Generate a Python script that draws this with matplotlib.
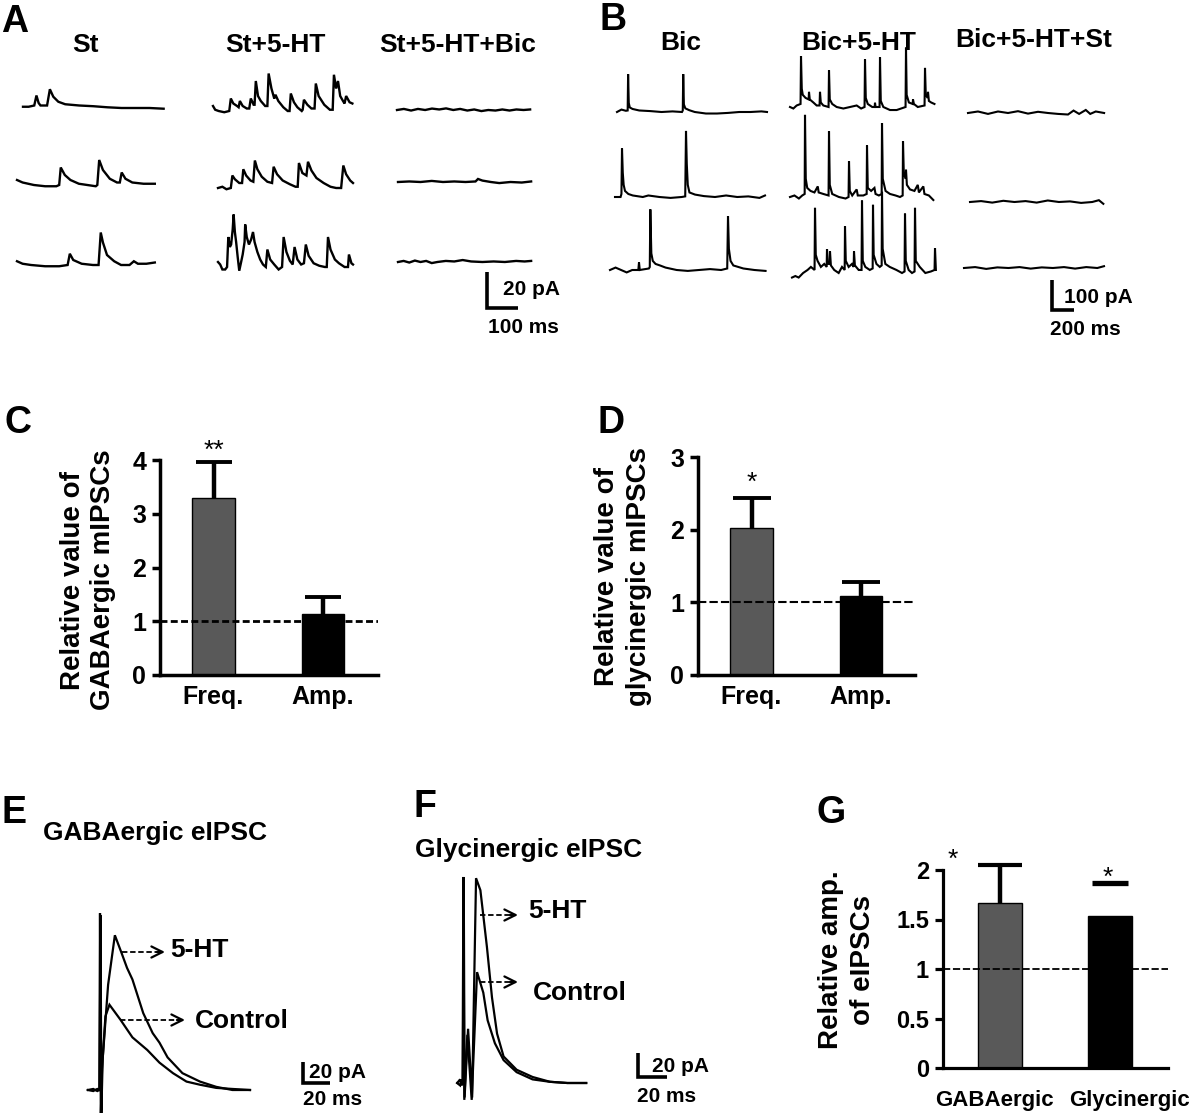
import matplotlib
matplotlib.use("Agg")
import matplotlib.pyplot as plt

plt.rcParams["font.family"] = ["Liberation Sans", "DejaVu Sans"]

# ======================= DATA =======================
# ---- Panel A: mIPSC traces (time ms, current pA) ----
A_titles = ["St", "St+5-HT", "St+5-HT+Bic"]
A_St_1 = [(0, 0.7), (18, 0.7), (36, 1.4), (43, 7), (50, 2.8), (56, 1.4), (77, 1.4), (86, 10.5),
          (97, 6.3), (113, 3.5), (135, 2.1), (180, 1.4), (225, 1), (270, 0.4), (315, 0), (360, 0),
          (405, 0), (450, -0.4)]
A_St_2 = [(0, 2.8), (18, 1.4), (54, 0), (90, -0.7), (126, -0.7), (135, 0), (140, 9.8), (153, 5.6),
          (171, 2.8), (198, 0.7), (225, 0), (252, -0.7), (257, 0), (263, 14), (275, 8.4), (297, 3.5),
          (320, 1.4), (329, 1.4), (335, 7), (347, 3.5), (369, 1.4), (405, 0.7), (441, 0.7)]
A_St_3 = [(0, 2.1), (18, 0.7), (45, 0), (90, -0.7), (135, -0.7), (162, 0), (169, 6.3), (180, 2.8),
          (207, 0.7), (243, 0), (261, 0), (268, 18.2), (275, 12.6), (288, 5.6), (311, 2.1), (333, 0),
          (360, 0), (374, 2.1), (387, 0.7), (414, 0.7), (441, 1.4)]
A_HT_1 = [(0, 2.8), (7, 0.7), (18, 0), (36, -0.7), (52, 0), (57, 7), (65, 4.2), (77, 2.8), (82, 2.1),
          (86, 5.6), (95, 2.8), (108, 1.4), (116, 1.4), (121, 7), (130, 3.5), (133, 3.5), (137, 16.8),
          (144, 8.4), (153, 5.6), (167, 2.8), (174, 2.8), (178, 21), (187, 12.6), (196, 7), (200, 9.1),
          (209, 5.6), (225, 2.1), (239, 0), (245, 0), (249, 9.8), (259, 4.9), (270, 2.1), (284, 0),
          (287, 0.7), (291, 6.3), (302, 3.5), (315, 1.4), (325, 1.4), (329, 15.4), (338, 8.4),
          (356, 3.5), (374, 0.7), (383, 0.7), (387, 20.3), (394, 12.6), (400, 16.8), (407, 8.4),
          (416, 5.6), (421, 4.2), (426, 8.4), (437, 4.9), (446, 4.2)]
A_HT_2 = [(0, 0), (14, 0.7), (27, -0.7), (41, 0), (46, 7), (54, 4.9), (68, 2.8), (77, 2.8), (81, 10.5),
          (90, 7), (104, 4.2), (113, 3.5), (118, 15.4), (126, 10.5), (140, 6.3), (158, 3.5), (173, 2.8),
          (178, 11.9), (189, 7.7), (207, 4.2), (230, 2.1), (248, 0.7), (255, 0.7), (259, 14), (270, 8.4),
          (283, 7), (288, 14.7), (299, 9.8), (315, 5.6), (338, 2.8), (360, 0.7), (378, 0), (394, 0),
          (401, 12.6), (410, 7.7), (423, 4.2), (432, 2.8)]
A_HT_3 = [(0, 2.8), (7, 1.4), (14, -1.4), (23, -1.4), (29, 0), (33, 16.8), (38, 11.2), (42, 12.6),
          (47, 21), (50, 29.4), (54, 19.6), (58, 14), (63, 5.6), (68, -2.1), (74, 2.8), (79, 7), (85, 14),
          (87, 23.8), (92, 16.8), (99, 12.6), (106, 15.4), (112, 19.6), (117, 14), (126, 8.4), (135, 4.2),
          (144, 1.4), (153, 0), (158, 9.8), (167, 4.2), (180, 1.4), (194, -1.4), (205, 0), (210, 16.8),
          (219, 8.4), (230, 3.5), (239, 1.4), (245, 11.2), (254, 4.2), (266, 1.4), (275, 2.1),
          (281, 12.6), (290, 6.3), (306, 2.1), (324, 0.7), (342, 0), (348, 0), (352, 16.8), (360, 9.8),
          (374, 4.2), (387, 2.1), (405, 0), (416, 0), (419, 7), (427, 2.1), (432, 1.4)]
A_Bic_1 = [(0, 0), (22, 0.6), (45, -0.3), (67, 0.6), (90, 0), (112, 0.8), (135, 0.3), (157, 0.9),
           (180, 0), (202, 0.6), (225, -0.3), (247, 0.3), (270, -0.6), (292, 0), (315, -0.3), (337, 0.3),
           (360, -0.3), (382, 0.3), (405, 0), (426, 0.3)]
A_Bic_2 = [(0, 0), (36, 0.3), (72, 0), (108, 0.6), (144, 0), (180, 0.3), (216, 0), (248, 0.3),
           (256, 1.7), (270, 0.8), (297, 0), (324, -0.6), (360, 0), (396, -0.3), (426, 0.3)]
A_Bic_3 = [(0, 0), (18, 0.6), (36, -0.3), (54, 0.8), (72, 0), (90, 0.6), (108, -0.6), (126, 0),
           (153, 0.6), (180, 0.3), (207, 1.1), (234, 0.3), (270, 0), (306, 0.3), (342, 0), (378, 0.6),
           (405, 0.3), (426, 0.6)]

# ---- Panel B: traces (time ms, current pA) ----
B_titles = ["Bic", "Bic+5-HT", "Bic+5-HT+St"]
B_Bic_1 = [(0, 0), (40, 8), (80, 4), (96, 5), (100, 125), (106, 30), (115, 15), (140, 10), (200, 5),
           (300, 3), (400, 0), (500, 2), (585, 0), (592, 5), (596, 125), (602, 25), (615, 12), (650, 6),
           (700, 0), (800, -5), (900, -5), (1000, -3), (1100, 0), (1200, 0), (1300, 2), (1350, 0)]
B_Bic_2 = [(0, 0), (50, 0), (58, 10), (63, 160), (70, 80), (78, 40), (90, 20), (120, 10), (160, 5),
           (250, 0), (300, 5), (400, 0), (500, -3), (600, 0), (632, 2), (639, 218), (646, 110), (655, 40),
           (670, 15), (720, 8), (800, 3), (900, 0), (1000, 5), (1100, 0), (1200, 2), (1300, -3), (1350, 5)]
B_Bic_3 = [(0, 0), (50, 8), (100, 0), (150, -8), (200, 0), (255, 0), (261, 25), (268, 0), (350, 5),
           (358, 10), (363, 200), (372, 55), (385, 30), (410, 20), (450, 15), (500, 8), (600, 0),
           (700, -3), (800, 0), (900, 3), (1000, 0), (1055, 5), (1062, 178), (1070, 70), (1085, 30),
           (1110, 15), (1200, 5), (1300, 0), (1400, -3)]
B_HT_1 = [(0, 0), (30, -5), (60, 5), (95, 10), (99, 168), (106, 60), (115, 40), (140, 30), (168, 25),
          (171, 50), (178, 25), (210, 15), (240, 5), (266, 5), (270, 50), (277, 15), (300, 5), (347, 0),
          (351, 121), (358, 25), (380, 10), (420, 0), (480, -5), (540, 0), (600, 5), (640, -5), (671, 0),
          (675, 157), (682, 30), (700, 10), (740, 0), (762, 0), (765, 14), (770, 0), (806, 0), (810, 164),
          (817, 20), (840, 0), (900, -10), (960, -10), (1000, -5), (1040, 0), (1044, 196), (1050, 40),
          (1070, 15), (1104, 10), (1107, 25), (1115, 10), (1150, 0), (1211, 5), (1215, 129), (1222, 40),
          (1238, 30), (1242, 50), (1250, 20), (1270, 15), (1300, 10)]
B_HT_2 = [(0, 0), (40, 5), (80, -5), (110, 5), (132, 10), (135, 271), (142, 60), (155, 30), (185, 20),
          (220, 15), (250, 35), (258, 15), (300, 10), (347, 5), (351, 217), (358, 40), (380, 10), (440, 0),
          (500, -5), (527, 0), (531, 118), (538, 20), (560, 5), (600, 25), (610, 5), (660, 5), (690, 10),
          (693, 170), (700, 30), (730, 20), (760, 30), (770, 10), (800, 5), (825, 10), (828, 244),
          (835, 60), (860, 20), (900, 10), (950, 5), (990, 0), (1014, 5), (1017, 184), (1024, 80),
          (1040, 60), (1044, 90), (1052, 40), (1080, 25), (1120, 20), (1150, 40), (1160, 15), (1200, 35),
          (1210, 10), (1250, 5), (1290, -10)]
B_HT_3 = [(0, -15), (30, -10), (60, -15), (100, 0), (140, 10), (170, 20), (203, 10), (207, 215),
          (214, 60), (230, 40), (260, 20), (290, 30), (312, 20), (315, 79), (322, 30), (339, 30), (342, 71),
          (350, 25), (380, 10), (420, 0), (450, 20), (474, 10), (477, 154), (484, 40), (510, 20), (540, 30),
          (555, 20), (558, 71), (566, 25), (600, 10), (626, 10), (630, 239), (637, 40), (660, 20), (700, 10),
          (726, 15), (729, 225), (735, 60), (760, 30), (790, 20), (807, 25), (810, 268), (816, 80),
          (840, 30), (880, 20), (940, 10), (990, 0), (1013, 5), (1017, 196), (1024, 40), (1050, 10),
          (1080, 0), (1103, 5), (1107, 215), (1114, 40), (1150, 20), (1200, 0), (1250, 5), (1283, 10),
          (1287, 82), (1295, 10)]
B_St_1 = [(0, 0), (90, 5), (180, -3), (270, 5), (360, 0), (450, 6), (540, -2), (630, 4), (720, 0),
          (810, -3), (900, -5), (950, 8), (1000, -3), (1060, 10), (1100, -3), (1150, 5), (1225, 0)]
B_St_2 = [(0, 0), (100, 3), (200, -2), (300, 4), (400, 0), (500, 3), (600, -2), (700, 5), (800, 0),
          (900, 2), (1000, -3), (1100, 0), (1160, 6), (1200, -6)]
B_St_3 = [(0, 0), (100, 3), (200, -3), (300, 2), (400, 0), (500, 3), (600, -2), (700, 2), (800, 0),
          (900, 3), (1000, -2), (1100, 3), (1200, 0), (1260, 6)]

# ---- Panel C / D: relative mIPSC values ----
CD_categories = ["Freq.", "Amp."]
C_values = [3.30, 1.13]
C_errors = [0.67, 0.32]
D_values = [2.02, 1.09]
D_errors = [0.41, 0.19]
C_yticks = [0, 1, 2, 3, 4]
D_yticks = [0, 1, 2, 3]
C_stars = ["**", ""]
D_stars = ["*", ""]

# ---- Panel E / F: eIPSC traces (time ms, current pA) ----
E_control = [(-9, 0), (-5, 1), (-2, -1), (-0.5, 0), (0, 168), (0.6, -24), (1.5, 20), (4, 70), (7, 81),
             (15, 67), (24, 50), (35, 38), (44, 26), (54, 16), (64, 8), (74, 5), (86, 2), (98, 1), (111, 0)]
E_5HT = [(-9, 0), (-5, -1), (-2, 1), (-0.3, 0), (0.4, 166), (1.0, -22), (2, 30), (6, 100), (11, 147),
         (16, 130), (20, 116), (24, 105), (32, 73), (39, 54), (44, 45), (50, 31), (61, 16), (74, 8),
         (86, 3), (98, 0), (111, 0)]
F_control = [(-4, 0), (-2, 3), (-1, -2), (-0.3, 0), (0.3, 171), (0.9, -14), (3, 40), (6, -14), (9.7, 92),
             (14, 75), (17, 52), (22, 33), (28, 19), (37, 9), (48, 3), (60, 1), (72, 0), (85, 0)]
F_5HT = [(-4, 0), (-2, -2), (-1, 3), (-0.1, 0), (0.5, 170), (1.1, -12), (3.5, 45), (6.3, -12), (9, 170),
         (12, 160), (16.5, 113), (20, 71), (23.5, 41), (28, 22), (37, 11), (48, 5), (60, 1), (72, 0), (85, 0)]

# ---- Panel G: relative eIPSC amplitude ----
G_categories = ["GABAergic", "Glycinergic"]
G_values = [1.67, 1.535]
G_errors = [0.38, 0.33]
G_yticks = [0, 0.5, 1, 1.5, 2]
G_ytick_labels = ["0", "0.5", "1", "1.5", "2"]

bar_colors = ["#595959", "#000000"]

# ======================= FIGURE =======================
W, H = 1200, 1113
fig = plt.figure(figsize=(W / 100, H / 100), dpi=100)


def trace_axes(px_t0, py_base, t_min, t_max, ms_px, pa_px, up=110, down=45):
    left = px_t0 + t_min / ms_px
    width = (t_max - t_min) / ms_px
    ax = fig.add_axes([left / W, 1 - (py_base + down) / H, width / W, (up + down) / H])
    ax.set_xlim(t_min, t_max)
    ax.set_ylim(-down * pa_px, up * pa_px)
    ax.axis("off")
    return ax


def draw_trace(ax, pts, lw=1.4):
    ax.plot([p[0] for p in pts], [p[1] for p in pts], color="black", lw=lw,
            solid_joinstyle="miter", clip_on=False)


def scale_bar(ax, px_t0, py_base, ms_px, pa_px, bx, by, dt, di, lw=2.6):
    t = (bx - px_t0) * ms_px
    i0 = (py_base - by) * pa_px
    ax.plot([t, t, t + dt], [i0 + di, i0, i0], color="black", lw=lw,
            solid_joinstyle="miter", solid_capstyle="butt", clip_on=False)


# ---- A ----
A_ms, A_pa = 3.2, 0.56
A_traces = [[A_St_1, A_St_2, A_St_3], [A_HT_1, A_HT_2, A_HT_3], [A_Bic_1, A_Bic_2, A_Bic_3]]
A_pos = [[(23, 108), (17, 185), (17, 265)],
         [(213, 111), (218, 188), (218, 267)],
         [(397, 110), (398, 182), (398, 262)]]
for c in range(3):
    for r in range(3):
        x0, yb = A_pos[c][r]
        pts = A_traces[c][r]
        ax = trace_axes(x0, yb, 0, pts[-1][0], A_ms, A_pa, up=70, down=60)
        draw_trace(ax, pts, lw=1.7)
        if c == 2 and r == 2:
            scale_bar(ax, x0, yb, A_ms, A_pa, 487, 308, 100, 20)

# ---- B ----
B_ms, B_pa = 9.0, 3.3
B_traces = [[B_Bic_1, B_Bic_2, B_Bic_3], [B_HT_1, B_HT_2, B_HT_3], [B_St_1, B_St_2, B_St_3]]
B_pos = [[(617, 112), (615, 197), (610, 270)],
         [(790, 107), (790, 197), (792, 273)],
         [(968, 113), (970, 202), (964, 268)]]
for c in range(3):
    for r in range(3):
        x0, yb = B_pos[c][r]
        pts = B_traces[c][r]
        ax = trace_axes(x0, yb, 0, pts[-1][0], B_ms, B_pa, up=95, down=50)
        draw_trace(ax, pts, lw=1.5)
        if c == 2 and r == 2:
            scale_bar(ax, x0, yb, B_ms, B_pa, 1052, 310, 200, 100)

# ---- E ----
E_ms, E_pa = 0.74, 0.95
axE = trace_axes(100, 1090, -9, 111, E_ms, E_pa, up=175, down=30)
draw_trace(axE, E_control, lw=1.6)
draw_trace(axE, E_5HT, lw=1.6)
scale_bar(axE, 100, 1090, E_ms, E_pa, 303, 1083, 20, 20)

# ---- F ----
F_ms, F_pa = 0.69, 0.83
axF = trace_axes(463, 1083, -4, 85, F_ms, F_pa, up=215, down=25)
draw_trace(axF, F_control, lw=1.6)
draw_trace(axF, F_5HT, lw=1.6)
scale_bar(axF, 463, 1083, F_ms, F_pa, 638, 1077, 20, 20)


# ---- bar panels ----
def bar_axes(left, right, ybot, ytop, ymax, c0, c1):
    ax = fig.add_axes([left / W, 1 - ybot / H, (right - left) / W, (ybot - ytop) / H])
    u = c1 - c0
    ax.set_xlim((left - c0) / u, (right - c0) / u)
    ax.set_ylim(0, ymax)
    ax.patch.set_alpha(0)
    for s in ["top", "right"]:
        ax.spines[s].set_visible(False)
    return ax


def bar_panel(ax, cats, vals, errs, yticks, ylabels, width, caps, spine_lw, tick_fs, x_fs, xpad,
              dash_lw, dash, hide_bar=None, capthick=None):
    for s in ["left", "bottom"]:
        ax.spines[s].set_linewidth(spine_lw)
    ax.bar(range(len(vals)), vals, width=width, color=bar_colors, edgecolor="black",
           linewidth=1.0, zorder=2)
    ax.axhline(1, color="black", lw=dash_lw, ls=dash, zorder=3)
    for k, (v, e) in enumerate(zip(vals, errs)):
        eb = ax.errorbar([k], [v], yerr=[[0], [e]], fmt="none", ecolor="black", elinewidth=3.2,
                         capsize=caps[k], capthick=(capthick[k] if capthick else 2.8), zorder=4)
        caplines = eb.lines[1]
        # only the upper cap is shown (one-sided error bars)
        caplines[0].set_visible(False)
        for a in caplines:
            a.set_clip_on(False)
        for a in eb.lines[2]:
            a.set_clip_on(False)
            if hide_bar is not None and hide_bar[k]:
                a.set_visible(False)
    ax.set_yticks(yticks, labels=ylabels, fontsize=tick_fs, fontweight="bold")
    ax.tick_params(axis="y", direction="out", length=6, width=spine_lw, pad=4)
    if cats is not None:
        ax.set_xticks(range(len(vals)), labels=cats, fontsize=x_fs, fontweight="bold")
    else:
        ax.set_xticks([])
    ax.tick_params(axis="x", length=0, pad=xpad)


axC = bar_axes(160, 378, 675, 460, 4, 213.5, 323)
bar_panel(axC, CD_categories, C_values, C_errors, C_yticks, [str(t) for t in C_yticks], 0.39,
          [13.3, 13.3], 2.5, 18, 18, 7, 2.0, (0, (2.5, 1.2)))
axD = bar_axes(698, 915, 675, 457, 3, 751.5, 861)
bar_panel(axD, CD_categories, D_values, D_errors, D_yticks, [str(t) for t in D_yticks], 0.39,
          [13.6, 13.6], 2.5, 18, 18, 7, 1.5, (0, (4, 1.5)))
axG = bar_axes(943, 1168, 1068, 870, 2, 1000, 1110)
bar_panel(axG, None, G_values, G_errors, G_yticks, G_ytick_labels, 0.40,
          [15.5, 13.0], 2.3, 17, 16, 13, 1.3, (0, (4, 1.5)), hide_bar=[False, True],
          capthick=[3.0, 3.8])

# ---- significance stars (data coords) ----
for k, s in enumerate(C_stars):
    if s:
        axC.text(k, C_values[k] + C_errors[k] + 0.2, s, ha="center", va="center", fontsize=19)
for k, s in enumerate(D_stars):
    if s:
        axD.text(k, D_values[k] + D_errors[k] + 0.22, s, ha="center", va="center", fontsize=19)
axG.text(-0.43, 2.10, "*", ha="center", va="center", fontsize=19)
axG.text(0.98, 1.92, "*", ha="center", va="center", fontsize=19)

# ======================= TEXT OVERLAY =======================
ov = fig.add_axes([0, 0, 1, 1])
ov.set_xlim(0, W)
ov.set_ylim(H, 0)
ov.axis("off")

for lab, x, y in [("A", 1, 32), ("B", 599, 30), ("C", 4, 433), ("D", 597, 433),
                  ("E", 1, 823), ("F", 414, 817), ("G", 817, 823)]:
    ov.text(x, y, lab, ha="left", va="baseline", fontsize=27, fontweight="bold")

for t, x, y in zip(A_titles, [85, 275, 458], [52, 52, 52]):
    ov.text(x, y, t, ha="center", va="baseline", fontsize=19, fontweight="bold")
for t, x, y in zip(B_titles, [681, 859, 1034], [50, 50, 47]):
    ov.text(x, y, t, ha="center", va="baseline", fontsize=19, fontweight="bold")

# scale bar labels
for t, x, y in [("20 pA", 503, 295), ("100 ms", 488, 333), ("100 pA", 1064, 303), ("200 ms", 1050, 335),
                ("20 pA", 309, 1078), ("20 ms", 303, 1105), ("20 pA", 652, 1072), ("20 ms", 637, 1102)]:
    ov.text(x, y, t, ha="left", va="baseline", fontsize=15, fontweight="bold")

# eIPSC titles
ov.text(43, 840, "GABAergic eIPSC", ha="left", va="baseline", fontsize=19, fontweight="bold")
ov.text(415, 857, "Glycinergic eIPSC", ha="left", va="baseline", fontsize=19, fontweight="bold")

# G category labels
for t, x in zip(G_categories, [994, 1130]):
    ov.text(x, 1106, t, ha="center", va="baseline", fontsize=16, fontweight="bold")

# arrows + labels
for (x0, x1, y), (lab, tx, ty) in [((122, 165, 952), ("5-HT", 170, 957)),
                                    ((120, 185, 1020), ("Control", 195, 1028)),
                                    ((480, 518, 915), ("5-HT", 528, 918)),
                                    ((480, 518, 982), ("Control", 533, 1000))]:
    ov.plot([x0, x1 - 3], [y, y], color="black", lw=1.3, ls=(0, (3, 1.5)))
    ov.annotate("", xy=(x1, y), xytext=(x1 - 8, y),
                arrowprops=dict(arrowstyle="->", lw=1.6, color="black", mutation_scale=20,
                                shrinkA=0, shrinkB=0))
    ov.text(tx, ty, lab, ha="left", va="baseline", fontsize=19, fontweight="bold")

# y labels
ov.text(88, 580, "Relative value of\nGABAergic mIPSCs", rotation=90, ha="center", va="center",
        fontsize=20, fontweight="bold", linespacing=1.25)
ov.text(623, 577, "Relative value of\nglycinergic mIPSCs", rotation=90, ha="center", va="center",
        fontsize=20, fontweight="bold", linespacing=1.25)
ov.text(847, 960, "Relative amp.\nof eIPSCs", rotation=90, ha="center", va="center",
        fontsize=20, fontweight="bold", linespacing=1.25)

fig.savefig("out.png", dpi=100)
